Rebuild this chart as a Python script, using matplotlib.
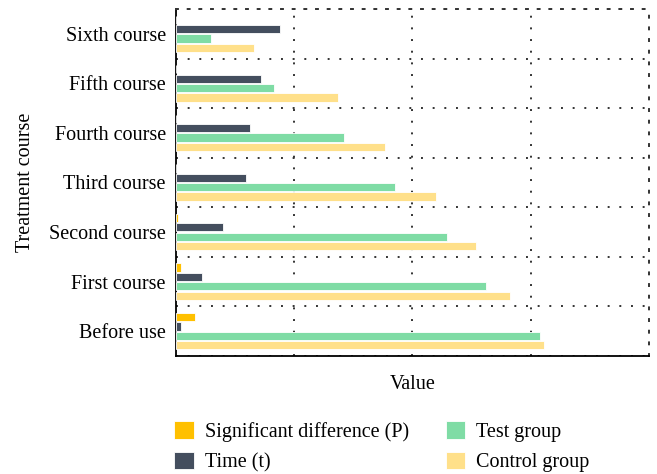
import matplotlib
matplotlib.use('Agg')
import matplotlib.pyplot as plt
import numpy as np

plt.rcParams['font.family'] = ['Liberation Serif', 'DejaVu Serif']

courses = ["Before use", "First course", "Second course", "Third course",
           "Fourth course", "Fifth course", "Sixth course"]
sig_p = [4.0, 1.1, 0.4, 0, 0, 0, 0]
time_t = [1.1, 5.6, 10.0, 14.8, 15.6, 18.1, 22.1]
test_group = [76.9, 65.5, 57.4, 46.3, 35.6, 20.8, 7.5]
control_group = [77.7, 70.6, 63.4, 55.0, 44.3, 34.2, 16.5]

series = [
    ("Significant difference (P)", sig_p, "#ffc000"),
    ("Time (t)", time_t, "#444e5e"),
    ("Test group", test_group, "#7fdca5"),
    ("Control group", control_group, "#ffe08a"),
]

fs = 14.5

fig = plt.figure(figsize=(6.57, 4.74), dpi=100)
ax = fig.add_axes([0.2674, 0.249, 0.7206, 0.732])

y = np.arange(len(courses))
h = 0.19
offsets = [1.5 * h, 0.5 * h, -0.5 * h, -1.5 * h]
handles = []
for (label, vals, color), off in zip(series, offsets):
    b = ax.barh(y + off, vals, height=h * 0.88, color=color, edgecolor='white',
                linewidth=0.6, label=label, zorder=3)
    handles.append(b)

ax.set_xlim(0, 100)
ax.set_ylim(-0.5, len(courses) - 0.5)
ax.set_xticks([25, 50, 75])
ax.set_xticklabels([])
ax.set_yticks(y)
ax.set_yticklabels(courses, fontsize=fs)
ax.set_yticks(np.arange(-0.5, len(courses), 1), minor=True)
ax.tick_params(axis='both', which='both', length=0)
ax.tick_params(axis='y', pad=7)

ax.grid(True, axis='x', which='major', color='#333333', linestyle=(0, (1, 5)), linewidth=1.4, zorder=1)
ax.grid(True, axis='y', which='minor', color='#333333', linestyle=(0, (1, 5)), linewidth=1.4, zorder=1)

for side in ['left', 'bottom']:
    ax.spines[side].set_linewidth(1.3)
    ax.spines[side].set_color('black')
for side in ['top', 'right']:
    ax.spines[side].set_linestyle((0, (1, 5)))
    ax.spines[side].set_linewidth(1.4)
    ax.spines[side].set_color('#333333')

ax.set_xlabel("Value", fontsize=fs, labelpad=10)
ax.set_ylabel("Treatment course", fontsize=fs, labelpad=10)

fig.legend(handles=handles, ncol=2, loc='lower left', bbox_to_anchor=(0.238, -0.035),
           frameon=False, fontsize=fs, handlelength=0.95, handleheight=0.95,
           handletextpad=0.55, columnspacing=1.85, labelspacing=0.5)

fig.savefig("out.png", dpi=100)
